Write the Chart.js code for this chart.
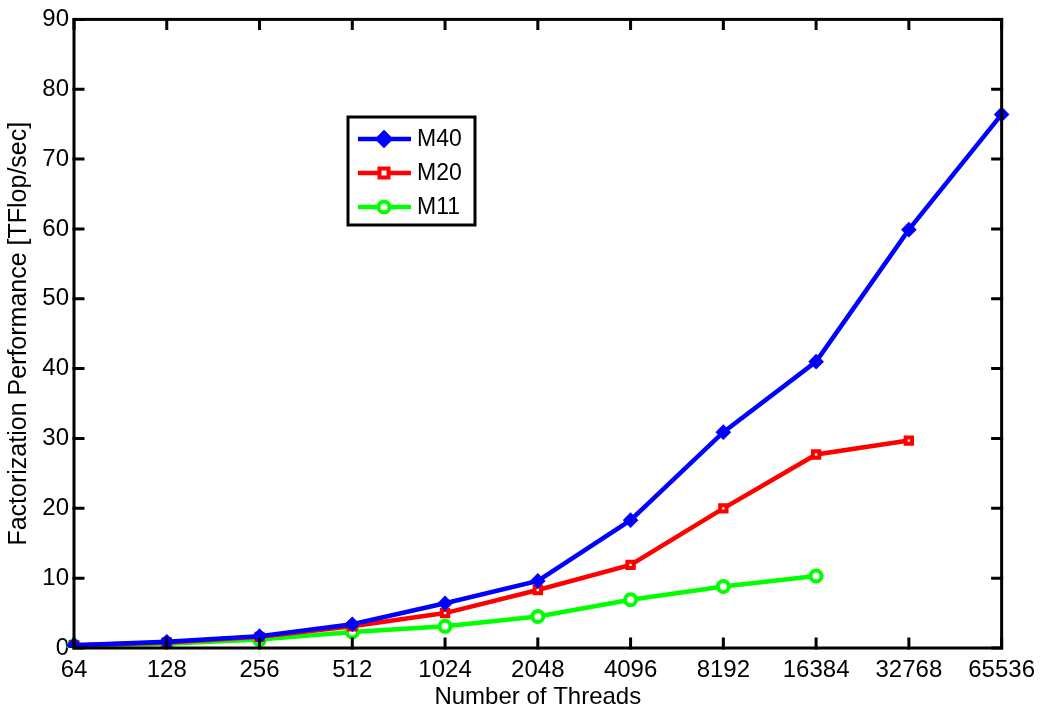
<!DOCTYPE html>
<html>
<head>
<meta charset="utf-8">
<script src="https://cdn.jsdelivr.net/npm/chart.js@4/dist/chart.umd.min.js"></script>
<style>
  html, body { margin: 0; padding: 0; background: #fff; }
  #wrap { width: 1043px; height: 716px; }
</style>
</head>
<body>
<div id="wrap"><canvas id="chart" width="1043" height="716"></canvas></div>
<script>
// Data
const threads = ['64', '128', '256', '512', '1024', '2048', '4096', '8192', '16384', '32768', '65536'];
const m40 = [0.4, 0.9, 1.7, 3.4, 6.4, 9.6, 18.3, 30.9, 41.0, 59.9, 76.4];
const m20 = [0.4, 0.8, 1.6, 3.1, 5.0, 8.3, 11.9, 20.0, 27.7, 29.7, null];
const m11 = [0.3, 0.6, 1.2, 2.3, 3.1, 4.5, 6.9, 8.8, 10.3, null, null];
const yTicks = [0, 10, 20, 30, 40, 50, 60, 70, 80, 90];

const FONT = '"Liberation Sans", Arial, sans-serif';

// MATLAB-style box with inward ticks on all four sides
const boxPlugin = {
  id: 'box',
  afterDraw(chart) {
    const { ctx, chartArea: a, scales } = chart;
    ctx.save();
    ctx.strokeStyle = '#000';
    ctx.lineWidth = 3;
    ctx.lineCap = 'square';
    ctx.strokeRect(a.left, a.top, a.right - a.left, a.bottom - a.top);
    const len = 9;
    ctx.beginPath();
    scales.x.ticks.forEach((t, i) => {
      const x = scales.x.getPixelForTick(i);
      ctx.moveTo(x, a.bottom); ctx.lineTo(x, a.bottom - len);
      ctx.moveTo(x, a.top); ctx.lineTo(x, a.top + len);
    });
    yTicks.forEach(v => {
      const y = scales.y.getPixelForValue(v);
      ctx.moveTo(a.left, y); ctx.lineTo(a.left + len, y);
      ctx.moveTo(a.right, y); ctx.lineTo(a.right - len, y);
    });
    ctx.stroke();
    ctx.restore();
  }
};

function drawMarker(ctx, style, r, x, y) {
  ctx.beginPath();
  if (style === 'circle') ctx.arc(x, y, r, 0, Math.PI * 2);
  else if (style === 'rect') ctx.rect(x - r, y - r, 2 * r, 2 * r);
  else { ctx.moveTo(x, y - r * 1.3); ctx.lineTo(x + r * 1.3, y); ctx.lineTo(x, y + r * 1.3); ctx.lineTo(x - r * 1.3, y); ctx.closePath(); }
  ctx.fill();
  ctx.stroke();
}

// legend box drawn like the MATLAB one
const legendPlugin = {
  id: 'mlegend',
  afterDraw(chart) {
    const { ctx } = chart;
    const bx = 348, by = 117, bw = 127, bh = 108;
    ctx.save();
    ctx.fillStyle = '#fff';
    ctx.fillRect(bx, by, bw, bh);
    ctx.strokeStyle = '#000';
    ctx.lineWidth = 3;
    ctx.strokeRect(bx, by, bw, bh);
    chart.data.datasets.forEach((ds, i) => {
      const y = 139 + i * 34;
      ctx.strokeStyle = ds.borderColor;
      ctx.lineWidth = ds.borderWidth;
      ctx.beginPath();
      ctx.moveTo(358, y); ctx.lineTo(411, y);
      ctx.stroke();
      ctx.fillStyle = ds.pointBackgroundColor;
      ctx.lineWidth = ds.pointBorderWidth;
      drawMarker(ctx, ds.pointStyle, ds.pointRadius, 384, y);
      ctx.fillStyle = '#000';
      ctx.font = '23px ' + FONT;
      ctx.textBaseline = 'middle';
      ctx.fillText(ds.label, 417, y + 1);
    });
    ctx.restore();
  }
};

function series(label, data, color, style, radius, fill) {
  return {
    label, data,
    borderColor: color,
    backgroundColor: color,
    borderWidth: 4.5,
    pointStyle: style,
    pointRadius: radius,
    pointBorderWidth: 4,
    pointBackgroundColor: fill,
    pointBorderColor: color,
    tension: 0,
    spanGaps: false
  };
}

new Chart(document.getElementById('chart'), {
  type: 'line',
  data: {
    labels: threads,
    datasets: [
      series('M40', m40, '#0000ff', 'rectRot', 5, '#0000ff'),
      series('M20', m20, '#ff0000', 'rect', 4.5, '#ffffff'),
      series('M11', m11, '#00ff00', 'circle', 5.5, '#ffffff')
    ]
  },
  options: {
    responsive: false,
    animation: false,
    layout: { padding: { top: 18, right: 41, left: 0, bottom: 0 } },
    plugins: { legend: { display: false }, tooltip: { enabled: false } },
    scales: {
      x: {
        offset: false,
        grid: { display: false, drawTicks: false },
        border: { display: false },
        ticks: { color: '#000', font: { family: FONT, size: 24 }, padding: 8, maxRotation: 0, autoSkip: false },
        title: { display: true, text: 'Number of Threads', color: '#000', font: { family: FONT, size: 24 }, padding: { bottom: 4, top: 0 } },
        afterFit(s) { s.height = 68; }
      },
      y: {
        min: 0, max: 90,
        grid: { display: false, drawTicks: false },
        border: { display: false },
        ticks: { stepSize: 10, color: '#000', font: { family: FONT, size: 24 }, padding: 5 },
        title: { display: true, text: 'Factorization Performance [TFlop/sec]', color: '#000', font: { family: FONT, size: 25 }, padding: { top: 4, bottom: 0 } },
        afterFit(s) { s.width = 74; }
      }
    }
  },
  plugins: [boxPlugin, legendPlugin]
});
</script>
</body>
</html>
